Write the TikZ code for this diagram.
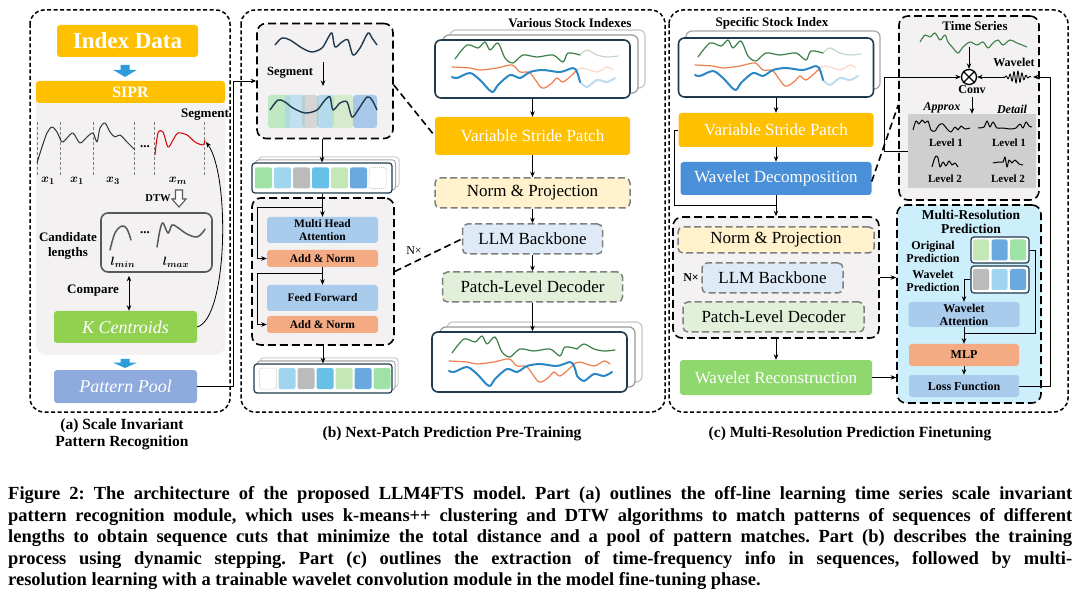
\documentclass[tikz,border=0pt]{standalone}
\usepackage{fontspec}
\setmainfont{Liberation Serif}
\usepackage{amsmath}
\usepackage{bm}
\usetikzlibrary{arrows.meta,calc}
\newcommand{\fs}[2]{\fontsize{#1}{#2}\selectfont}
\definecolor{cOr}{HTML}{FFC000}
\definecolor{cArrowBlue}{HTML}{2E9BDA}
\definecolor{cPanel}{HTML}{F3F1F2}
\definecolor{cGreenK}{HTML}{92D050}
\definecolor{cPool}{HTML}{8FAADC}
\definecolor{cLB}{HTML}{A9CBEC}
\definecolor{cAN}{HTML}{F4AB83}
\definecolor{cWD}{HTML}{4A90D9}
\definecolor{cWR}{HTML}{8FD86E}
\definecolor{cMRP}{HTML}{CDEEFB}
\definecolor{cNavy}{HTML}{1F3A4D}
\definecolor{cNP}{HTML}{FFF2CC}
\definecolor{cLLM}{HTML}{DEEBF7}
\definecolor{cPLD}{HTML}{E2F0D9}
\definecolor{cSG}{HTML}{3B7F47}
\definecolor{cSO}{HTML}{F07F50}
\definecolor{cSB}{HTML}{2B87C5}
\definecolor{cGrayD}{HTML}{7F7F7F}
\definecolor{cLevel}{HTML}{D0CFCF}
\definecolor{tG}{HTML}{9FE2A6}
\definecolor{tLB}{HTML}{9FD5EF}
\definecolor{tGr}{HTML}{BBBBBB}
\definecolor{tB}{HTML}{67C0E8}
\definecolor{tLG}{HTML}{C3E8B5}
\definecolor{tMB}{HTML}{6AA8E0}
\tikzset{
 panel/.style={draw=black, line width=1.5pt, dash pattern=on 4pt off 2.5pt, rounded corners=14pt},
 dbox/.style={draw=black, line width=1.6pt, dash pattern=on 8pt off 4pt, rounded corners=9pt, fill=cPanel, inner sep=0pt},
 gdbox/.style={draw=cGrayD, line width=1.5pt, dash pattern=on 7pt off 3.5pt, rounded corners=5pt, inner sep=0pt, font=\fs{17}{20}},
 fbox/.style={rounded corners=3pt, inner sep=0pt},
 arr/.style={-{Stealth[length=5.5pt,width=4.5pt]}, line width=0.8pt},
 dblarr/.style={{Stealth[length=5.5pt,width=4.5pt]}-{Stealth[length=5.5pt,width=4.5pt]}, line width=0.8pt},
 thinl/.style={line width=0.8pt},
 lbl/.style={inner sep=0pt, font=\fs{13}{15}\bfseries},
 tok/.style={rounded corners=2pt, minimum width=17pt, minimum height=21pt, inner sep=0pt},
 tokbox/.style={draw=cNavy, line width=1.2pt, rounded corners=3pt, fill=white, inner sep=0pt},
 chartbox/.style={draw=cNavy, line width=1.6pt, rounded corners=6pt, fill=white, inner sep=0pt},
 shad/.style={line width=1.2pt, rounded corners=6pt, fill=white},
 dashlink/.style={line width=1.6pt, dash pattern=on 7pt off 4pt},
 capline/.style={anchor=base west, inner sep=0pt, font=\fs{18.5}{21}\bfseries},
}
\newcommand{\blockarrow}[3]{\fill[cArrowBlue] (#1-4.5,#2) -- (#1+4.5,#2) -- (#1+4.5,#2+#3*0.4) -- (#1+12,#2+#3*0.4) -- (#1,#2+#3) -- (#1-12,#2+#3*0.4) -- (#1-4.5,#2+#3*0.4) -- cycle;}
\newcommand{\stockchart}[3]{%
\begin{scope}[shift={(#1,#2)}, line join=round, line cap=round]
\draw[cSG, line width=1.2pt] plot[smooth, tension=0.5] coordinates {(20,19) (32,5) (43,8) (50,2) (55,10) (63,3) (70,18) (78,23) (88,15) (102,17) (118,15) (128,22) (133,13) (145,15)};
\draw[cSG, line width=1.2pt, opacity=#3] plot[smooth, tension=0.5] coordinates {(145,15) (152,10) (162,15) (172,17) (183,16)};
\draw[cSO, line width=1.2pt] plot[smooth, tension=0.5] coordinates {(17,27) (35,28) (45,30) (62,28) (77,25) (85,32) (95,33) (107,48) (117,43) (122,38) (128,42) (137,35) (142,30)};
\draw[cSO, line width=1.2pt, opacity=#3] plot[smooth, tension=0.5] coordinates {(142,30) (148,28) (162,32) (172,27) (178,30)};
\draw[cSB, line width=2pt] plot[smooth, tension=0.5] coordinates {(17,37) (22,38) (35,33) (45,40) (57,52) (63,45) (75,35) (85,38) (95,32) (108,30) (125,32) (138,28) (142,32) (145,42)};
\draw[cSB, line width=2pt, opacity=#3] plot[smooth, tension=0.5] coordinates {(145,42) (152,47) (162,40) (172,42) (180,38)};
\end{scope}}
\begin{document}
\frenchspacing
\begin{tikzpicture}[x=1pt,y=-1pt]
\useasboundingbox (0,0) rectangle (1080,604);
\fill[white] (0,0) rectangle (1080,604);

% ---------- panels
\draw[panel] (30,10) rectangle (230,412);
\draw[panel] (241,10) rectangle (665,412);
\draw[panel] (669,10) rectangle (1068,412);

% ---------- (a)
\node[fbox, fill=cOr, text=white, font=\fs{23}{26}\bfseries, minimum width=141, minimum height=32] (idx) at (127.5,41) {Index Data};
\blockarrow{125}{65}{12}
\fill[cPanel, rounded corners=10pt] (36,88) rectangle (225,355);
\node[fbox, fill=cOr, text=white, font=\fs{16}{18}\bfseries, minimum width=189, minimum height=22] (sipr) at (130.5,92) {SIPR};
\node[lbl] (segl) at (205,115) {Segment};
\foreach \xx in {37,60,93,134,154,204} \draw[gray, dash pattern=on 3pt off 2pt, line width=0.7pt] (\xx,122) -- (\xx,175);
\draw[black!80, line width=1pt, line join=round] plot[smooth, tension=0.5] coordinates {(37,163) (42,147) (47,133) (52,127) (57,132) (62,142) (67,138) (73,133) (80,143) (87,137) (93,133) (97,142) (100,128) (105,123) (110,132) (115,137) (120,135) (127,142) (135,150)};
\draw[red!80!black, line width=1pt, line join=round] plot[smooth, tension=0.5] coordinates {(155,155) (158,133) (163,132) (168,147) (173,140) (178,133) (187,135) (195,142) (203,145) (205,140)};
\node[inner sep=0pt, font=\fs{13}{15}\bfseries] (dots1) at (145,147) {...};
\node[inner sep=0pt, font=\fs{13}{15}] (lx1) at (48,181) {$\bm{x_1}$};
\node[inner sep=0pt, font=\fs{13}{15}] (lx2) at (77,181) {$\bm{x_1}$};
\node[inner sep=0pt, font=\fs{13}{15}] (lx3) at (113,181) {$\bm{x_3}$};
\node[inner sep=0pt, font=\fs{13}{15}] (lxm) at (178,181) {$\bm{x_m}$};
\node[inner sep=0pt, font=\fs{10.5}{12}\bfseries] (dtw) at (158,198) {DTW};
\draw[gray!70!black, line width=1.1pt, fill=white] (175.5,190) -- (182.5,190) -- (182.5,199) -- (186,199) -- (179,207) -- (172,199) -- (175.5,199) -- cycle;
\node[draw=gray!70!black, line width=1.6pt, rounded corners=7pt, minimum width=111, minimum height=59, inner sep=0pt] (cand) at (156.5,242.5) {};
\draw[gray!70!black, line width=1.5pt, line cap=round] plot[smooth, tension=0.6] coordinates {(110,250) (115,233) (122,226) (127,229) (131,240)};
\draw[gray!70!black, line width=1.5pt, line cap=round] plot[smooth, tension=0.6] coordinates {(157,247) (160,230) (163,223) (168,233) (172,225) (177,227) (187,234) (197,237) (203,232) (205,229)};
\node[inner sep=0pt, font=\fs{13}{15}\bfseries] (dots2) at (145,233) {...};
\node[inner sep=0pt, font=\fs{13}{15}] (lmin) at (123,262) {$\bm{l_{min}}$};
\node[inner sep=0pt, font=\fs{13}{15}] (lmax) at (176,262) {$\bm{l_{max}}$};
\node[lbl, align=center] (candl) at (68,246) {Candidate\\lengths};
\node[lbl] (cmpl) at (93,291) {Compare};
\node[fbox, fill=cGreenK, text=white, font=\fs{18}{20}\itshape, minimum width=143, minimum height=32] (kc) at (125.5,327) {K Centroids};
\coordinate (cmpx) at (129,0);
\draw[dblarr] (cand.south -| cmpx) ++(0,3) -- (kc.north -| cmpx);
\coordinate (segend) at (206,142);
\draw[arr] (kc.east) .. controls (228,318) and (230,175) .. (segend);
\blockarrow{125}{359}{9}
\node[fbox, fill=cPool, text=white, font=\fs{18}{20}\itshape, minimum width=143, minimum height=33] (pool) at (125.5,386.5) {Pattern Pool};
\node[inner sep=0pt, font=\fs{15.5}{17}\bfseries, align=center] (capa) at (122,434) {(a) Scale Invariant\\Pattern Recognition};

% ---------- (b) left column
\node[dbox, minimum width=136, minimum height=115] (segbox) at (325,81) {};
\draw[arr] (pool.east) -| ($(segbox.west)+(-23,0)$) -- (segbox.west);
\draw[cNavy, line width=1.4pt, line join=round] plot[smooth, tension=0.5] coordinates {(275,45) (282,38) (290,40) (302,48) (312,52) (322,48) (328,38) (332,33) (335,47) (342,42) (348,40) (353,55) (360,48) (368,33) (372,38) (377,45)};
\node[inner sep=0pt, font=\fs{12.5}{14}\bfseries] (segl2) at (290,73) {Segment};
\coordinate (sga) at (323,62);
\coordinate (sgb) at (323,86);
\draw[arr] (sga) -- (sgb);
\fill[tG, opacity=0.6, rounded corners=3pt] (268,95) rectangle (290,128);
\fill[tLB, opacity=0.6, rounded corners=3pt] (285,95) rectangle (305,128);
\fill[tGr, opacity=0.5, rounded corners=3pt] (302,95) rectangle (318,128);
\fill[tB, opacity=0.45, rounded corners=3pt] (317,95) rectangle (334,128);
\fill[tLG, opacity=0.6, rounded corners=3pt] (332,95) rectangle (353,128);
\fill[tMB, opacity=0.55, rounded corners=3pt] (353,95) rectangle (377,128);
\draw[cNavy, line width=1.4pt, line join=round] plot[smooth, tension=0.5] coordinates {(270,110) (278,100) (285,102) (293,108) (305,113) (317,110) (325,100) (330,97) (333,110) (340,103) (347,102) (352,117) (358,110) (367,97) (372,100) (377,110)};

% token row 1
\draw[gray!40, line width=1pt, rounded corners=3pt, fill=white] (259,157) rectangle (399,187);
\draw[gray!70, line width=1pt, rounded corners=3pt, fill=white] (255.5,160) rectangle (395.5,190);
\node[tokbox, minimum width=140, minimum height=30] (tr1) at (322,178) {};
\foreach \c [count=\i] in {tG,tLB,tGr,tB,tLG,tMB} \node[tok, fill=\c] (ta\i) at ({263.5+19*(\i-1)},178) {};
\node[tok, fill=white, draw=gray!60, dash pattern=on 1pt off 1pt, line width=0.5pt] (ta7) at (377.5,178) {};
\draw[arr] (segbox.south -| tr1.north) -- (tr1.north);

% transformer block
\node[dbox, minimum width=142, minimum height=147] (tblock) at (323,271.5) {};
\node[fbox, fill=cLB, minimum width=111, minimum height=26, align=center, font=\fs{11.5}{13}\bfseries] (mha) at (322.5,230) {Multi Head\\Attention};
\node[fbox, fill=cAN, minimum width=111, minimum height=17, font=\fs{11.5}{13}\bfseries] (an1) at (322.5,258.5) {Add \& Norm};
\node[fbox, fill=cLB, minimum width=111, minimum height=26, font=\fs{11.5}{13}\bfseries] (ff) at (322.5,298) {Feed Forward};
\node[fbox, fill=cAN, minimum width=111, minimum height=17, font=\fs{11.5}{13}\bfseries] (an2) at (322.5,324.5) {Add \& Norm};
\draw[arr] (tr1.south -| mha.north) -- (mha.north);
\draw[arr] ($(tr1.south -| mha.north)+(0,14)$) -| ($(an1.west)+(-9,0)$) -- (an1.west);
\draw[arr] (an1.south) -- (ff.north);
\draw[arr] ($(an1.south)+(0,6)$) -| ($(an2.west)+(-9,0)$) -- (an2.west);

% token row 2
\draw[gray!40, line width=1pt, rounded corners=3pt, fill=white] (260,358) rectangle (398,387);
\draw[gray!70, line width=1pt, rounded corners=3pt, fill=white] (257,361) rectangle (395,390);
\node[tokbox, minimum width=138, minimum height=29] (tr2) at (323,378.5) {};
\node[tok, fill=white, draw=gray!60, dash pattern=on 1pt off 1pt, line width=0.5pt] (tb1) at (268,378.5) {};
\foreach \c [count=\i] in {tLB,tGr,tB,tLG,tMB,tG} \node[tok, fill=\c] (tb\i x) at ({287+19*(\i-1)},378.5) {};
\draw[arr] (tblock.south -| tr2.north) -- (tr2.north);

% (b) right column
\node[inner sep=0pt, font=\fs{13}{15}\bfseries] (vsi) at (570,23) {Various Stock Indexes};
\draw[shad, draw=gray!45] (450,30) rectangle (645,88);
\draw[shad, draw=gray!80] (443,35) rectangle (638,93);
\node[chartbox, minimum width=195, minimum height=58] (ch1) at (532.5,69) {};
\stockchart{435}{40}{0.3}
\node[fbox, fill=cOr, text=white, font=\fs{17}{20}, minimum width=195, minimum height=38] (vsp1) at (532.5,136) {Variable Stride Patch};
\node[gdbox, fill=cNP, minimum width=195, minimum height=30] (np1) at (532.5,193) {Norm \& Projection};
\node[gdbox, fill=cLLM, minimum width=140, minimum height=30] (llm1) at (532.5,239) {LLM Backbone};
\node[gdbox, fill=cPLD, minimum width=180, minimum height=30] (pld1) at (532.5,287) {Patch-Level Decoder};
\draw[shad, draw=gray!45] (447,322) rectangle (642,382);
\draw[shad, draw=gray!80] (440,327) rectangle (635,387);
\node[chartbox, minimum width=195, minimum height=60] (ch2) at (529.5,362) {};
\stockchart{432}{334}{1}
\draw[arr] (ch1.south -| vsp1.north) -- (vsp1.north);
\draw[arr] (vsp1.south) -- (np1.north);
\draw[arr] (np1.south) -- (llm1.north);
\draw[arr] (llm1.south) -- (pld1.north);
\draw[arr] (pld1.south) -- (pld1.south |- ch2.north);
\draw[dashlink] ($(segbox.east)+(0,4)$) -- (vsp1.west);
\draw[dashlink] (tblock.east) -- (llm1.west);
\node[inner sep=0pt, font=\fs{12}{14}] (nx1) at (414,251) {N×};
\node[inner sep=0pt, font=\fs{15.5}{17}\bfseries] (capb) at (452,434) {(b) Next-Patch Prediction Pre-Training};

% ---------- (c)
\node[inner sep=0pt, font=\fs{13}{15}\bfseries] (ssi) at (772,23) {Specific Stock Index};
\draw[shad, draw=gray!70] (686,31) rectangle (880,89);
\node[chartbox, minimum width=195, minimum height=59] (ch3) at (776,67.5) {};
\stockchart{678}{38}{0.3}
\node[fbox, fill=cOr, text=white, font=\fs{17}{20}, minimum width=195, minimum height=34] (vsp2) at (776,130) {Variable Stride Patch};
\node[fbox, fill=cWD, text=white, font=\fs{17}{20}, minimum width=191, minimum height=33] (wd) at (776,178.5) {Wavelet Decomposition};
\draw[arr] (ch3.south) -- (vsp2.north);
\draw[arr] (vsp2.south) -- (wd.north);
\node[dbox, minimum width=206, minimum height=121] (cblock) at (776,277.5) {};
\coordinate (jn) at (776,205);
\draw[thinl] (vsp2.west) -- ++(-4,0) |- (jn);
\draw[arr] (wd.south) -- (cblock.north);
\node[gdbox, fill=cNP, minimum width=196, minimum height=26] (np2) at (776,240) {Norm \& Projection};
\node[inner sep=0pt, font=\fs{12}{14}\bfseries] (nx2) at (691,278) {N×};
\node[gdbox, fill=cLLM, minimum width=141, minimum height=30] (llm2) at (772.5,278) {LLM Backbone};
\node[gdbox, fill=cPLD, minimum width=181, minimum height=30] (pld2) at (773.5,317) {Patch-Level Decoder};
\node[fbox, fill=cWR, text=white, font=\fs{17}{20}, minimum width=192, minimum height=35] (wr) at (776,377.5) {Wavelet Reconstruction};
\draw[arr] (cblock.south) -- (wr.north);

% time series box
\node[dbox, minimum width=140, minimum height=184] (tsbox) at (969,108) {};
\node[lbl] (tsl) at (975,26) {Time Series};
\draw[cSG, line width=1.1pt, line join=round] plot[smooth, tension=0.5] coordinates {(920,42) (925,35) (930,37) (935,33) (940,40) (945,35) (948,42) (953,48) (958,53) (963,47) (970,42) (977,45) (983,42) (988,48) (993,43) (998,40) (1003,45) (1010,40) (1017,43) (1027,47)};
\node[circle, draw, line width=1.3pt, minimum size=15pt, inner sep=0pt, fill=white] (conv) at (969,77) {};
\draw[line width=1.3pt] (conv.north west) -- (conv.south east);
\draw[line width=1.3pt] (conv.north east) -- (conv.south west);
\coordinate (tsbot) at (969,47);
\draw[arr] (tsbot) -- (conv.north);
\node[inner sep=0pt, font=\fs{12}{14}\bfseries] (convl) at (972,90) {Conv};
\node[inner sep=0pt, font=\fs{12}{14}\bfseries] (wavl) at (1014,62) {Wavelet};
\draw[line width=0.9pt] plot[domain=-1:1, samples=80, smooth] ({1017+14*\x},{77-6*exp(-3*(\x)^2)*sin(1260*(\x))});
\coordinate (wavR) at (1033,77);
\coordinate (wavL) at (1003,77);
\draw[arr] (wavL) -- (conv.east);
\node[inner sep=0pt, font=\fs{12}{14}\bfseries\itshape] (apx) at (942,108) {Approx};
\node[inner sep=0pt, font=\fs{12}{14}\bfseries\itshape] (dtl) at (1012,109) {Detail};
\node[fill=cLevel, minimum width=128, minimum height=74, inner sep=0pt] (gbox) at (972,151) {};
\draw[arr] (convl.south) ++(0,3) -- (convl.south |- gbox.north);
\draw[arr] (gbox.west) -- ++(-23,0) |- (conv.west);
\draw[line width=1pt, line join=round] plot[smooth, tension=0.5] coordinates {(913,130) (916,121) (919,124) (922,120) (925,123) (928,121) (931,130) (935,131) (939,125) (943,124) (947,129) (951,132) (955,127) (958,130) (961,126) (965,129) (970,128)};
\draw[line width=1pt, line join=round] plot[smooth, tension=0.5] coordinates {(978,128) (984,127) (987,121) (990,127) (993,122) (997,128) (1003,128) (1010,129) (1016,128) (1020,124) (1023,128) (1026,122) (1029,126) (1032,127)};
\draw[line width=1pt, line join=round] plot[smooth, tension=0.5] coordinates {(932,167) (934,160) (936,156) (938,158) (940,167) (943,162) (946,166) (949,161) (952,165) (955,163) (958,167)};
\draw[line width=1pt, line join=round] plot[smooth, tension=0.5] coordinates {(993,163) (999,162) (1003,162) (1005,157) (1007,167) (1009,160) (1012,163) (1015,160) (1019,164) (1023,165)};
\node[inner sep=0pt, font=\fs{11}{13}\bfseries] (lv1a) at (946,143) {Level 1};
\node[inner sep=0pt, font=\fs{11}{13}\bfseries] (lv1d) at (1009,143) {Level 1};
\node[inner sep=0pt, font=\fs{11}{13}\bfseries] (lv2a) at (945,179) {Level 2};
\node[inner sep=0pt, font=\fs{11}{13}\bfseries] (lv2d) at (1008,179) {Level 2};
\draw[dashlink] ($(wd.east)+(0,3)$) -- ($(tsbox.west)+(0,-3)$);

% multi-resolution prediction
\node[dbox, fill=cMRP, minimum width=144, minimum height=198] (mrp) at (969,304) {};
\node[lbl, align=center, font=\fs{13.5}{14}\bfseries] (mrpt) at (971,222) {Multi-Resolution\\Prediction};
\node[inner sep=0pt, align=center, font=\fs{12}{13}\bfseries] (opl) at (933,251.5) {Original\\Prediction};
\node[inner sep=0pt, align=center, font=\fs{12}{13}\bfseries] (wpl) at (933,281) {Wavelet\\Prediction};
\node[tokbox, minimum width=58, minimum height=26] (otk) at (1000,250) {};
\foreach \c [count=\i] in {tLG,tMB,tG} \node[tok, fill=\c, minimum width=16, minimum height=21] (oc\i) at ({981+18.5*(\i-1)},250) {};
\node[tokbox, minimum width=58, minimum height=27] (wtk) at (1000,279.5) {};
\foreach \c [count=\i] in {tGr,tLB,tMB} \node[tok, fill=\c, minimum width=16, minimum height=21] (wc\i) at ({981+18.5*(\i-1)},279.5) {};
\node[fbox, fill=cLB, minimum width=111, minimum height=25, align=center, font=\fs{12}{13}\bfseries] (wa) at (964,314.5) {Wavelet\\Attention};
\node[fbox, fill=cAN, minimum width=110, minimum height=22, font=\fs{12}{13}\bfseries] (mlp) at (964,355) {MLP};
\node[fbox, fill=cLB, minimum width=110, minimum height=22, font=\fs{12}{13}\bfseries] (loss) at (964,386) {Loss Function};
\draw[arr] (wtk.west) -| (wa.north);
\coordinate (jn2) at (964,333);
\draw[thinl] (otk.east) -- ++(6,0) |- (jn2);
\draw[arr] (wa.south) -- (mlp.north);
\draw[arr] (mlp.south) -- (loss.north);
\draw[arr] (loss.east) -- ++(31,0) |- (wavR);
\draw[arr] (wr.east) -- (wr.east -| mrp.west);
\draw[arr] (cblock.east) -- (cblock.east -| mrp.west);
\node[inner sep=0pt, font=\fs{15.5}{17}\bfseries] (capc) at (850,434) {(c) Multi-Resolution Prediction Finetuning};

% ---------- caption
\node[capline] (cap1) at (8,499) {\makebox[1064pt][s]{Figure 2: The architecture of the proposed LLM4FTS model. Part (a) outlines the off-line learning time series scale invariant}};
\node[capline] (cap2) at (8,521) {\makebox[1064pt][s]{pattern recognition module, which uses k-means++ clustering and DTW algorithms to match patterns of sequences of different}};
\node[capline] (cap3) at (8,542) {\makebox[1064pt][s]{lengths to obtain sequence cuts that minimize the total distance and a pool of pattern matches. Part (b) describes the training}};
\node[capline] (cap4) at (8,564) {\makebox[1064pt][s]{process using dynamic stepping. Part (c) outlines the extraction of time-frequency info in sequences, followed by multi-}};
\node[capline] (cap5) at (8,585) {resolution learning with a trainable wavelet convolution module in the model fine-tuning phase.};
\end{tikzpicture}
\end{document}
